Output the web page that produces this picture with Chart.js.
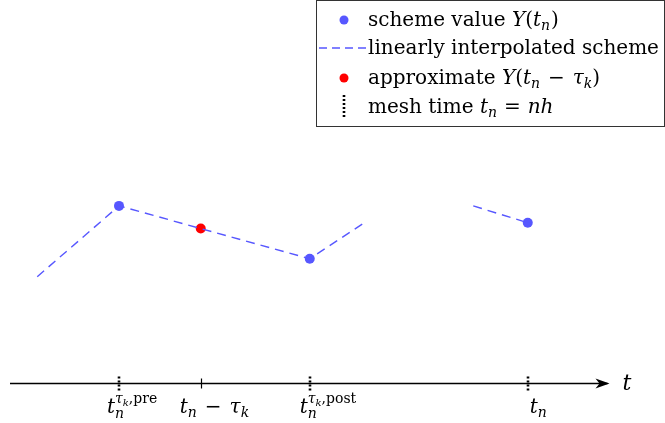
<!DOCTYPE html>
<html>
<head>
<meta charset="utf-8">
<script src="https://cdn.jsdelivr.net/npm/chart.js@4"></script>
<style>
  html, body { margin: 0; padding: 0; background: #fff; }
  #wrap { width: 665px; height: 423px; }
</style>
</head>
<body>
<div id="wrap"><canvas id="chart"></canvas></div>
<script>
// time axis values (unit = one step on the t axis)
var lineT = [0.5, 2, 5.5, 6.5];
var lineY = [1.95, 3.25, 2.28, 2.94];
var line2T = [8.5, 9.5];
var line2Y = [3.25, 2.94];
var schemeT = [2, 5.5, 9.5];
var schemeY = [3.25, 2.28, 2.94];
var approxT = [3.5];
var approxY = [2.834];
var meshTicks = [2, 5.5, 9.5];
var delayTicks = [3.5];
var axisEnd = 11;

var legendLabels = ['scheme value', 'linearly interpolated scheme', 'approximate', 'mesh time'];

var BLUE = '#5757ff';
var RED = '#ff0000';
var MATH = "'DejaVu Serif', serif";
var ROMAN = "'DejaVu Serif', serif";
var FS = 20;

var toXY = function(xs, ys) {
  return xs.map(function(x, i) { return {x: x, y: ys[i]}; });
};

var setFont = function(ctx, p) {
  ctx.font = (p.it ? 'italic ' : '') + p.s + 'px ' + (p.it ? MATH : ROMAN);
};

// rich text: pieces {t, it, s, dy, stay, gap}
var drawRich = function(ctx, x, y, pieces) {
  ctx.textBaseline = 'alphabetic';
  ctx.textAlign = 'left';
  ctx.fillStyle = '#000';
  pieces.forEach(function(p) {
    setFont(ctx, p);
    ctx.fillText(p.t, x, y + (p.dy || 0));
    if (!p.stay) x += ctx.measureText(p.t).width + (p.gap || 0);
  });
};

var tn = function(s) {
  return [{t: 't', it: true, s: s}, {t: 'n', it: true, s: Math.round(s * 0.7), dy: 4, gap: 1}];
};
var tnStack = function(s, sup) {
  return [{t: 't', it: true, s: s}, {t: 'n', it: true, s: Math.round(s * 0.7), dy: 5, stay: true},
    {t: 'τ', it: true, s: 14, dy: -10}, {t: 'k', it: true, s: 10, dy: -7}, {t: sup, s: 14, dy: -10}];
};
var minusTau = function(s) {
  return [{t: '', s: s, gap: 7}, {t: '−', s: s, gap: 8}, {t: 'τ', it: true, s: s}, {t: 'k', it: true, s: Math.round(s * 0.7), dy: 4}];
};

var tickLabels = [
  tnStack(FS, ',pre'),
  tn(FS).concat(minusTau(FS)),
  tnStack(FS, ',post'),
  tn(FS)
];
var tickLabelT = [2, 3.5, 5.5, 9.5];
var tickLabelShift = [-12, -21, -10, 2];

var overlay = {
  id: 'overlay',
  beforeDatasetsDraw: function(chart) {
    var ctx = chart.ctx;
    var xs = chart.scales.x, ys = chart.scales.y;
    var y0 = Math.round(ys.getPixelForValue(0)) + 0.5;
    var xa = xs.getPixelForValue(0), xb = xs.getPixelForValue(axisEnd);
    ctx.save();
    ctx.strokeStyle = '#000';
    ctx.lineWidth = 1.6;
    ctx.beginPath();
    ctx.moveTo(xa, y0);
    ctx.lineTo(xb - 2, y0);
    ctx.stroke();
    // arrow head
    ctx.fillStyle = '#000';
    ctx.beginPath();
    ctx.moveTo(xb, y0);
    ctx.lineTo(xb - 14, y0 - 5);
    ctx.lineTo(xb - 10, y0);
    ctx.lineTo(xb - 14, y0 + 5);
    ctx.closePath();
    ctx.fill();
    // mesh ticks (dotted)
    ctx.lineWidth = 2.6;
    ctx.setLineDash([2, 2]);
    meshTicks.forEach(function(t) {
      var px = Math.round(xs.getPixelForValue(t));
      ctx.beginPath();
      ctx.moveTo(px, y0 - 7);
      ctx.lineTo(px, y0 + 9);
      ctx.stroke();
    });
    ctx.setLineDash([]);
    ctx.lineWidth = 1.2;
    delayTicks.forEach(function(t) {
      var px = Math.round(xs.getPixelForValue(t)) + 0.5;
      ctx.beginPath();
      ctx.moveTo(px, y0 - 5);
      ctx.lineTo(px, y0 + 5);
      ctx.stroke();
    });
    // tick labels
    tickLabels.forEach(function(pieces, i) {
      var px = xs.getPixelForValue(tickLabelT[i]);
      drawRich(ctx, px + tickLabelShift[i], y0 + 29, pieces);
    });
    drawRich(ctx, xb + 13, y0 + 6, [{t: 't', it: true, s: 22}]);
    ctx.restore();
  },
  afterDraw: function(chart) {
    var ctx = chart.ctx;
    ctx.save();
    // legend box
    var bx = 316.5, by = 0.5, bw = 348, bh = 126;
    ctx.fillStyle = '#fff';
    ctx.fillRect(bx, by, bw, bh);
    ctx.strokeStyle = '#333';
    ctx.lineWidth = 1;
    ctx.strokeRect(bx, by, bw, bh);
    var tx = 368, rows = [20, 48, 78, 107], base = 6;
    // row 1
    ctx.fillStyle = BLUE;
    ctx.beginPath(); ctx.arc(344, rows[0], 4.5, 0, Math.PI * 2); ctx.fill();
    drawRich(ctx, tx, rows[0] + base, [{t: legendLabels[0] + ' ', s: FS}, {t: 'Y', it: true, s: FS}, {t: '(', s: FS}]
      .concat(tn(FS)).concat([{t: ')', s: FS}]));
    // row 2
    ctx.strokeStyle = BLUE;
    ctx.lineWidth = 1.4;
    ctx.setLineDash([8, 5]);
    ctx.beginPath(); ctx.moveTo(319, rows[1]); ctx.lineTo(368, rows[1]); ctx.stroke();
    ctx.setLineDash([]);
    drawRich(ctx, tx, rows[1] + base, [{t: legendLabels[1], s: FS}]);
    // row 3
    ctx.fillStyle = RED;
    ctx.beginPath(); ctx.arc(344, rows[2], 4.5, 0, Math.PI * 2); ctx.fill();
    drawRich(ctx, tx, rows[2] + base, [{t: legendLabels[2] + ' ', s: FS}, {t: 'Y', it: true, s: FS}, {t: '(', s: FS}]
      .concat(tn(FS)).concat(minusTau(FS)).concat([{t: ')', s: FS}]));
    // row 4
    ctx.strokeStyle = '#000';
    ctx.lineWidth = 2.6;
    ctx.setLineDash([2, 2]);
    ctx.beginPath(); ctx.moveTo(344, rows[3] - 12); ctx.lineTo(344, rows[3] + 10); ctx.stroke();
    ctx.setLineDash([]);
    drawRich(ctx, tx, rows[3] + base, [{t: legendLabels[3] + ' ', s: FS}].concat(tn(FS))
      .concat([{t: '', s: FS, gap: 6}, {t: '=', s: FS, gap: 7}, {t: 'nh', it: true, s: FS}]));
    ctx.restore();
  }
};

new Chart(document.getElementById('chart'), {
  type: 'scatter',
  data: {
    datasets: [{
      type: 'line',
      data: toXY(lineT, lineY),
      borderColor: BLUE,
      borderWidth: 1.4,
      borderDash: [9, 6],
      pointRadius: 0,
      fill: false
    }, {
      type: 'line',
      data: toXY(line2T, line2Y),
      borderColor: BLUE,
      borderWidth: 1.4,
      borderDash: [9, 6],
      pointRadius: 0,
      fill: false
    }, {
      data: toXY(schemeT, schemeY),
      backgroundColor: BLUE,
      borderWidth: 0,
      pointRadius: 5
    }, {
      data: toXY(approxT, approxY),
      backgroundColor: RED,
      borderWidth: 0,
      pointRadius: 5
    }]
  },
  options: {
    responsive: true,
    maintainAspectRatio: false,
    animation: false,
    layout: { padding: 0, autoPadding: false },
    plugins: { legend: { display: false }, tooltip: { enabled: false } },
    scales: {
      x: { type: 'linear', display: false, min: -10 / 54.5, max: 655 / 54.5 },
      y: { type: 'linear', display: false, min: -40 / 54.5, max: 383 / 54.5 }
    }
  },
  plugins: [overlay]
});
</script>
</body>
</html>
